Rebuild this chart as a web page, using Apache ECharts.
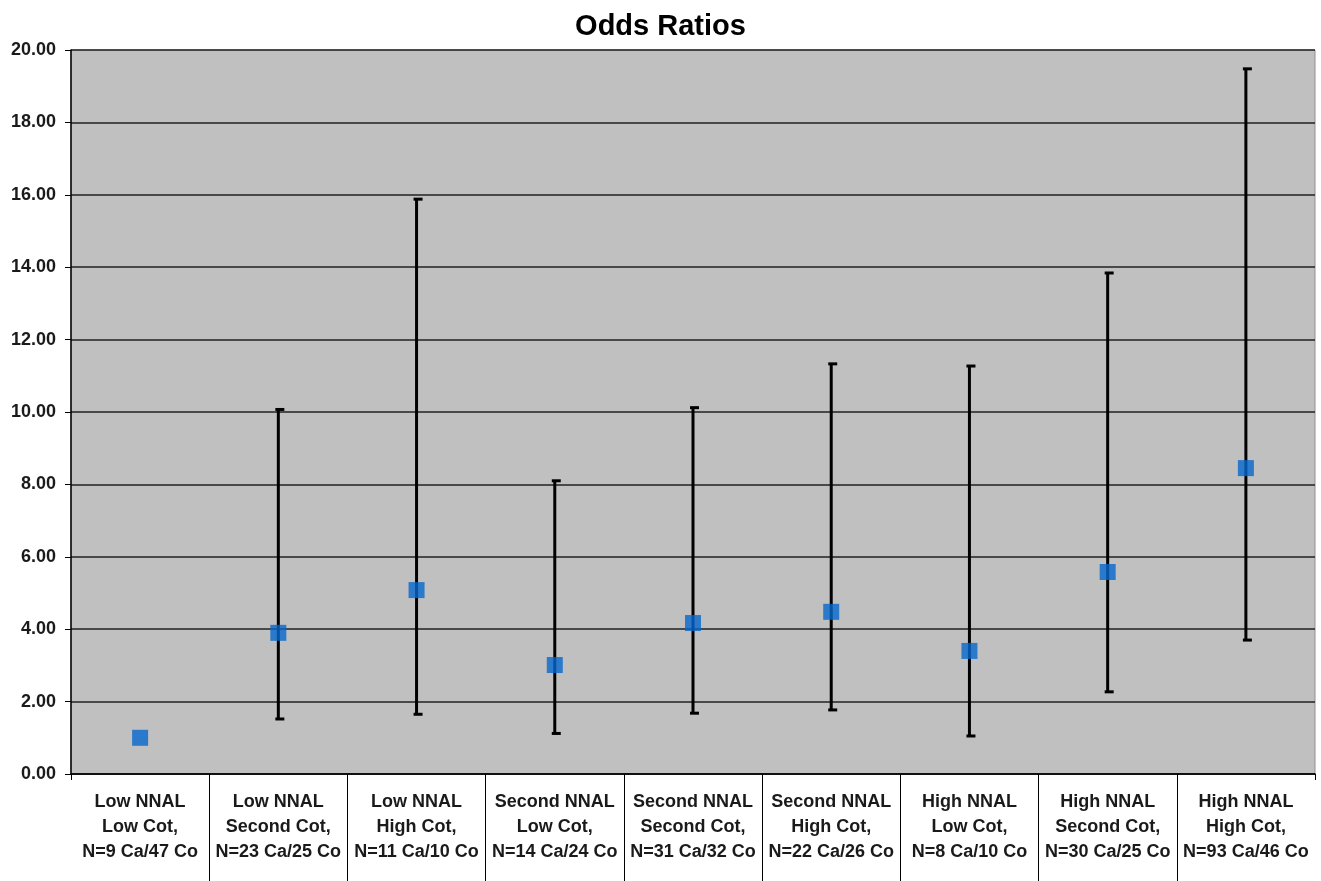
<html>

<head>
    <script src="https://cdn.jsdelivr.net/npm/echarts@6/dist/echarts.min.js"></script>
    <style>
        html, body {
            margin: 0;
            padding: 0;
            background: #fff;
        }
        #odds {
            width: 1321px;
            height: 881px;
        }
    </style>
</head>

<body>
    <div id="odds"></div>
    <script>
        // categories (3 line labels)
        var categories = [
            'Low NNAL\nLow Cot,\nN=9 Ca/47 Co',
            'Low NNAL\nSecond Cot,\nN=23 Ca/25 Co',
            'Low NNAL\nHigh Cot,\nN=11 Ca/10 Co',
            'Second NNAL\nLow Cot,\nN=14 Ca/24 Co',
            'Second NNAL\nSecond Cot,\nN=31 Ca/32 Co',
            'Second NNAL\nHigh Cot,\nN=22 Ca/26 Co',
            'High NNAL\nLow Cot,\nN=8 Ca/10 Co',
            'High NNAL\nSecond Cot,\nN=30 Ca/25 Co',
            'High NNAL\nHigh Cot,\nN=93 Ca/46 Co'
        ];
        var oddsRatio = [1.00, 3.90, 5.08, 3.01, 4.17, 4.48, 3.40, 5.58, 8.45];
        var lowerCI = [null, 1.52, 1.65, 1.12, 1.68, 1.77, 1.05, 2.27, 3.70];
        var upperCI = [null, 10.07, 15.88, 8.10, 10.12, 11.33, 11.27, 13.84, 19.48];
        var yTicks = [0, 20, 2]; // min, max, interval

        var errData = [];
        for (var i = 0; i < categories.length; i++) {
            if (lowerCI[i] != null) {
                errData.push([i, lowerCI[i], upperCI[i]]);
            }
        }
        // inner category boundaries for the label separators
        var separators = [];
        for (var j = 1; j < categories.length; j++) {
            separators.push(j);
        }

        var myChart = echarts.init(document.getElementById('odds'));
        var option = {
            animation: false,
            textStyle: {
                fontFamily: 'Liberation Sans, Arial, sans-serif'
            },
            title: {
                text: 'Odds Ratios',
                left: 'center',
                top: -3,
                textStyle: {
                    fontSize: 29,
                    fontWeight: 'bold',
                    color: '#000'
                }
            },
            grid: {
                left: 71,
                right: 6,
                top: 50,
                bottom: 107,
                show: true,
                backgroundColor: '#C0C0C0',
                borderColor: '#909090',
                borderWidth: 1
            },
            xAxis: [
                {
                    type: 'category',
                    data: categories,
                    axisLine: {
                        lineStyle: { color: '#000', width: 1.5 }
                    },
                    axisTick: {
                        show: true,
                        length: 6,
                        lineStyle: { color: '#000', width: 1 }
                    },
                    axisLabel: {
                        interval: 0,
                        margin: 16,
                        fontSize: 18,
                        fontWeight: 'bold',
                        lineHeight: 25,
                        color: '#1a1a1a',
                        align: 'center'
                    }
                },
                {
                    // separators between the category labels
                    type: 'value',
                    min: 0,
                    max: categories.length,
                    position: 'bottom',
                    axisLine: { show: false },
                    axisLabel: { show: false },
                    splitLine: { show: false },
                    axisTick: {
                        show: true,
                        length: 107,
                        customValues: separators,
                        lineStyle: { color: '#000', width: 1 }
                    }
                }
            ],
            yAxis: {
                type: 'value',
                min: yTicks[0],
                max: yTicks[1],
                interval: yTicks[2],
                axisLine: {
                    show: true,
                    lineStyle: { color: '#000', width: 1.5 }
                },
                axisTick: {
                    show: true,
                    length: 6,
                    lineStyle: { color: '#000' }
                },
                axisLabel: {
                    fontSize: 18,
                    fontWeight: 'bold',
                    color: '#1a1a1a',
                    margin: 15,
                    formatter: function (v) { return v.toFixed(2); }
                },
                splitLine: {
                    lineStyle: { color: '#222', width: 1.5 }
                }
            },
            series: [
                {
                    type: 'custom',
                    data: errData,
                    z: 2,
                    renderItem: function (params, api) {
                        var x = api.value(0);
                        var lo = api.coord([x, api.value(1)]);
                        var hi = api.coord([x, api.value(2)]);
                        var st = { stroke: '#000', lineWidth: 3 };
                        return {
                            type: 'group',
                            children: [
                                { type: 'line', shape: { x1: lo[0], y1: lo[1], x2: hi[0], y2: hi[1] }, style: st },
                                { type: 'line', shape: { x1: hi[0] - 3, y1: hi[1], x2: hi[0] + 6, y2: hi[1] }, style: st },
                                { type: 'line', shape: { x1: lo[0] - 3, y1: lo[1], x2: lo[0] + 6, y2: lo[1] }, style: st }
                            ]
                        };
                    }
                },
                {
                    type: 'scatter',
                    data: oddsRatio,
                    symbol: 'rect',
                    symbolSize: 16,
                    z: 3,
                    itemStyle: {
                        color: '#0466CC'
                    }
                }
            ]
        };

        myChart.setOption(option);
    </script>
</body>

</html>
